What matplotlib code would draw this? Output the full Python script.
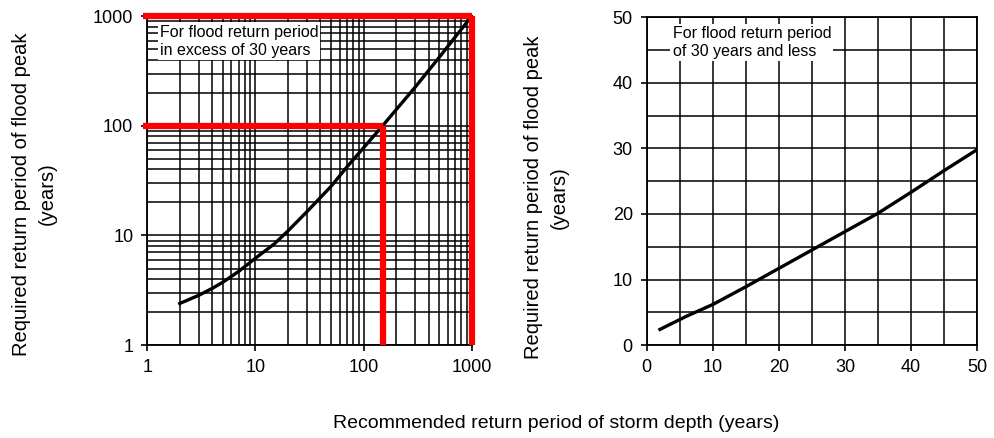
import numpy as np
import matplotlib.pyplot as plt
from matplotlib.ticker import LogLocator, FixedLocator, NullFormatter

plt.rcParams['font.family'] = ['Liberation Sans', 'DejaVu Sans']

# left panel: flood return period above 30 years (log-log)
storm_long = [2, 3, 4, 5, 7, 10, 15, 20, 30, 50, 70, 100, 150, 200, 300, 500, 700, 1000]
flood_long = [2.4, 2.85, 3.3, 3.75, 4.7, 6.2, 8.4, 11.0, 16.5, 28, 42, 63, 100, 140, 225, 420, 640, 1000]

# right panel: flood return period of 30 years and less
storm_short = [2, 6, 10, 15, 20, 25, 30, 35, 40, 45, 50]
flood_short = [2.4, 4.4, 6.2, 8.9, 11.7, 14.5, 17.3, 20.1, 23.3, 26.6, 29.8]

log_ticks = [1, 10, 100, 1000]
lin_ticks = [0, 10, 20, 30, 40, 50]

# red highlight lines (storm period, flood period)
guide_x = [150, 1000]
guide_y = [100, 1000]

ylabel = "Required return period of flood peak\n(years)"
xlabel = "Recommended return period of storm depth (years)"

fig = plt.figure(figsize=(9.95, 4.38), dpi=100)
ax1 = fig.add_axes([0.148, 0.212, 0.326, 0.751])
ax2 = fig.add_axes([0.650, 0.212, 0.332, 0.749])

# ---- left
ax1.set_xscale('log')
ax1.set_yscale('log')
ax1.set_xlim(1, 1000)
ax1.set_ylim(1, 1000)
ax1.xaxis.set_major_locator(FixedLocator(log_ticks))
ax1.yaxis.set_major_locator(FixedLocator(log_ticks))
ax1.set_xticklabels([str(t) for t in log_ticks])
ax1.set_yticklabels([str(t) for t in log_ticks])
ax1.xaxis.set_minor_locator(LogLocator(base=10, subs=np.arange(2, 10)))
ax1.yaxis.set_minor_locator(LogLocator(base=10, subs=np.arange(2, 10)))
ax1.xaxis.set_minor_formatter(NullFormatter())
ax1.yaxis.set_minor_formatter(NullFormatter())
ax1.grid(True, which='both', color='black', linewidth=1.1)
ax1.plot(storm_long, flood_long, color='black', linewidth=2.4, zorder=4)

for gx, gy in zip(guide_x, guide_y):
    ax1.plot([0.92, gx], [gy, gy], color='red', linewidth=4.5,
             solid_capstyle='butt', clip_on=False, zorder=5)
    ax1.plot([gx, gx], [1, gy], color='red', linewidth=4.5,
             solid_capstyle='butt', clip_on=False, zorder=5)

ax1.text(1.3, 840, "For flood return period\nin excess of 30 years", fontsize=11.5,
         va='top', ha='left', linespacing=1.25,
         bbox=dict(facecolor='white', edgecolor='none', pad=1.5), zorder=6)

# ---- right
ax2.set_xlim(0, 50)
ax2.set_ylim(0, 50)
ax2.xaxis.set_major_locator(FixedLocator(lin_ticks))
ax2.yaxis.set_major_locator(FixedLocator(lin_ticks))
ax2.xaxis.set_minor_locator(FixedLocator(np.arange(5, 50, 10)))
ax2.yaxis.set_minor_locator(FixedLocator(np.arange(5, 50, 10)))
ax2.grid(True, which='both', color='black', linewidth=1.1)
ax2.plot(storm_short, flood_short, color='black', linewidth=2.4, zorder=4)
ax2.text(3.9, 48.6, "For flood return period\nof 30 years and less", fontsize=11.5,
         va='top', ha='left', linespacing=1.25,
         bbox=dict(facecolor='white', edgecolor='none', pad=1.5), zorder=6)

for ax in (ax1, ax2):
    ax.set_axisbelow(True)
    for s in ax.spines.values():
        s.set_linewidth(1.3)
    ax.tick_params(which='major', direction='out', length=4, width=1.2,
                   labelsize=13, pad=6)
    ax.tick_params(which='minor', length=0)
    ax.set_ylabel(ylabel, fontsize=14.5, linespacing=1.45)

ax1.yaxis.set_label_coords(-0.28, 0.46)
ax2.yaxis.set_label_coords(-0.235, 0.45)

fig.text(0.559, 0.034, xlabel, fontsize=14, ha='center', va='center')

fig.savefig("out.png", dpi=100)
